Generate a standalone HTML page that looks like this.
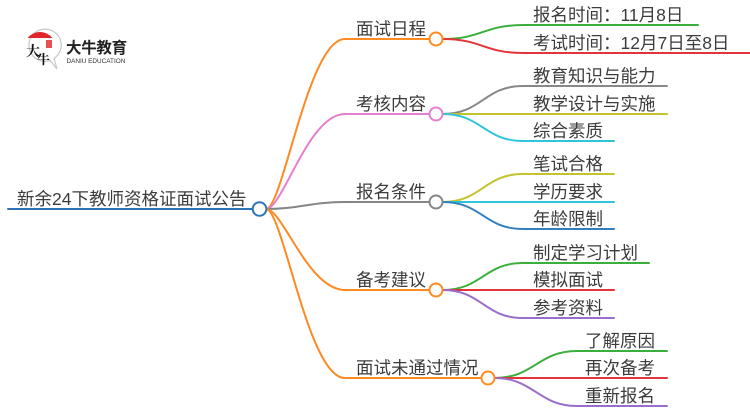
<!DOCTYPE html>
<html><head><meta charset="utf-8"><style>
html,body{margin:0;padding:0;background:#fff;}
svg{display:block;}
text{font-family:"Liberation Sans","Noto Sans CJK SC",sans-serif;fill:#3c3c3c;}
</style></head><body>
<svg width="750" height="410" viewBox="0 0 750 410" xmlns="http://www.w3.org/2000/svg">
<!-- logo -->
<g>
  <path d="M40 30 A16 16 0 1 0 50 60.5 L57 69 L54 58.5 A16 16 0 0 0 40 30 Z" fill="#fff" stroke="#c8c8c8" stroke-width="1.2"/>
  <path d="M27.5 38 A16 16 0 0 1 52.5 38 Z" fill="#e0262b"/>
  <text x="26" y="56" style="font-family:'Noto Serif CJK SC',serif;font-size:14px;fill:#111;font-weight:bold;">大</text>
  <text x="37" y="64" style="font-family:'Noto Serif CJK SC',serif;font-size:13px;fill:#111;font-weight:bold;">牛</text>
  <rect x="46" y="40" width="6" height="8" fill="#e0262b" opacity="0.8"/>
  <text x="66" y="53" style="font-size:15.5px;font-weight:bold;fill:#222;letter-spacing:-0.3px;">大牛教育</text>
  <text x="66.5" y="63" style="font-size:6.4px;fill:#333;">DANIU EDUCATION</text>
</g>

<g fill="none" stroke-width="2" stroke-linecap="round">
  <!-- root line -->
  <line x1="8" y1="209" x2="252" y2="209" stroke="#2e75b6"/>
  <!-- level 1 connectors -->
  <path d="M266 209 C283 209 308 39 345 39 L429.5 39" stroke="#fd8a23"/>
  <path d="M266 209 C283 209 308 114 345 114 L429.5 114" stroke="#e67fd0"/>
  <path d="M266 209 C300 209 310 202 345 202 L429.5 202" stroke="#858585"/>
  <path d="M266 209 C283 209 308 290 345 290 L429.5 290" stroke="#fd8a23"/>
  <path d="M266 209 C283 209 308 378 345 378 L481.5 378" stroke="#fd8a23"/>

  <!-- group 1 -->
  <path d="M442.5 39 C482 39 484 25 523 25 L698 25" stroke="#3cae3c"/>
  <path d="M442.5 39 C482 39 484 53 523 53 L750 53" stroke="#e3343a"/>
  <!-- group 2 -->
  <path d="M442.5 114 C482 114 484 86 523 86 L667 86" stroke="#888888"/>
  <path d="M442.5 114 L667 114" stroke="#c5c22f"/>
  <path d="M442.5 114 C482 114 484 141 523 141 L614 141" stroke="#2ec4da"/>
  <!-- group 3 -->
  <path d="M442.5 202 C482 202 484 174 523 174 L614 174" stroke="#c5c22f"/>
  <path d="M442.5 202 L614 202" stroke="#2ec4da"/>
  <path d="M442.5 202 C482 202 484 229 523 229 L614 229" stroke="#3080c0"/>
  <!-- group 4 -->
  <path d="M442.5 290 C482 290 484 263 523 263 L649 263" stroke="#3cae3c"/>
  <path d="M442.5 290 L614 290" stroke="#e3343a"/>
  <path d="M442.5 290 C482 290 484 318 523 318 L614 318" stroke="#9a6ccb"/>
  <!-- group 5 -->
  <path d="M494.5 378 C534 378 538 351 577 351 L667 351" stroke="#3cae3c"/>
  <path d="M494.5 378 L667 378" stroke="#e3343a"/>
  <path d="M494.5 378 C534 378 538 406 577 406 L667 406" stroke="#9a6ccb"/>

  <!-- circles -->
  <circle cx="259.5" cy="209" r="6.8" fill="#fff" stroke="#2e75b6"/>
  <circle cx="436" cy="39" r="6.5" fill="#fff" stroke="#fd8a23"/>
  <circle cx="436" cy="114" r="6.5" fill="#fff" stroke="#e67fd0"/>
  <circle cx="436" cy="202" r="6.5" fill="#fff" stroke="#858585"/>
  <circle cx="436" cy="290" r="6.5" fill="#fff" stroke="#fd8a23"/>
  <circle cx="488" cy="378" r="6.5" fill="#fff" stroke="#fd8a23"/>
</g>

<g style="font-size:17.5px;">
  <text x="17" y="205">新余24下教师资格证面试公告</text>
  <text x="356" y="35">面试日程</text>
  <text x="356" y="110">考核内容</text>
  <text x="356" y="198">报名条件</text>
  <text x="356" y="286">备考建议</text>
  <text x="356" y="374">面试未通过情况</text>

  <text x="533" y="21">报名时间：11月8日</text>
  <text x="533" y="49">考试时间：12月7日至8日</text>
  <text x="533" y="82">教育知识与能力</text>
  <text x="533" y="110">教学设计与实施</text>
  <text x="533" y="137">综合素质</text>
  <text x="533" y="170">笔试合格</text>
  <text x="533" y="198">学历要求</text>
  <text x="533" y="225">年龄限制</text>
  <text x="533" y="259">制定学习计划</text>
  <text x="533" y="286">模拟面试</text>
  <text x="533" y="314">参考资料</text>
  <text x="585" y="347">了解原因</text>
  <text x="585" y="374">再次备考</text>
  <text x="585" y="402">重新报名</text>
</g>
</svg>
</body></html>
